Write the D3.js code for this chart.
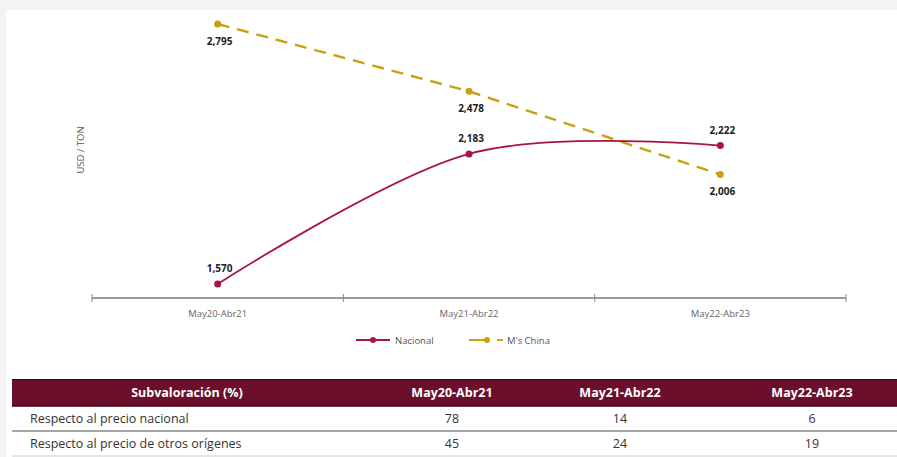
<!DOCTYPE html>
<html>
<head>
<meta charset="utf-8">
<script src="https://cdn.jsdelivr.net/npm/d3@7"></script>
<style>
  body { margin: 0; background: #f3f3f3; font-family: "Open Sans", sans-serif; }
</style>
</head>
<body>
<div id="dataviz"></div>
<script>
// data
const periods = ["May20-Abr21", "May21-Abr22", "May22-Abr23"];
const nacional = [1570, 2183, 2222];
const china = [2795, 2478, 2086];
const nacionalLabels = ["1,570", "2,183", "2,222"];
const chinaLabels = ["2,795", "2,478", "2,006"];
const tableHeader = ["Subvaloración (%)", "May20-Abr21", "May21-Abr22", "May22-Abr23"];
const rowNames = ["Respecto al precio nacional", "Respecto al precio de otros orígenes"];
const rowValues = [[78, 14, 6], [45, 24, 19]];

const W = 897, H = 457;
const margin = {top: 24, right: 51, bottom: 173, left: 92},
    width = W - margin.left - margin.right,
    height = H - margin.top - margin.bottom;

const colNac = "#a8144a", colChina = "#c9a010", maroon = "#6b0f2a";

const root = d3.select("#dataviz").append("svg")
    .attr("width", W).attr("height", H);

// white panel
root.append("rect").attr("x", 6).attr("y", 10).attr("width", W - 6).attr("height", H - 10).attr("fill", "#fff");

let svg = root.append("g").attr("transform", `translate(${margin.left}, ${margin.top})`);

const xScale = d3.scaleBand().domain(periods).range([0, width]);
const yScale = d3.scaleLinear().domain([1570, 2795]).range([260, 0]);
const xc = d => xScale(d) + xScale.bandwidth() / 2;

// x axis
const axisY = 274;
svg.append("line").attr("x1", 0).attr("x2", width).attr("y1", axisY).attr("y2", axisY)
    .attr("stroke", "#9a9a9a").attr("stroke-width", 2);
const edges = periods.map(p => xScale(p)).concat([width]);
svg.selectAll(".tk").data(edges).join("line")
    .attr("x1", d => d).attr("x2", d => d).attr("y1", axisY - 4).attr("y2", axisY + 4)
    .attr("stroke", "#8a8a8a").attr("stroke-width", 1);
svg.selectAll(".xl").data(periods).join("text")
    .attr("x", d => xc(d)).attr("y", axisY + 19)
    .attr("text-anchor", "middle").attr("font-size", 9.5).attr("fill", "#666")
    .text(d => d);

// y title
svg.append("text").attr("transform", `translate(-8, ${126}) rotate(-90)`)
    .attr("text-anchor", "middle").attr("font-size", 9.5).attr("fill", "#555")
    .text("USD / TON");

// lines
const lineNac = d3.line().x((d, i) => xc(periods[i])).y(d => yScale(d)).curve(d3.curveCatmullRom.alpha(0));
const lineChina = d3.line().x((d, i) => xc(periods[i])).y(d => yScale(d));

svg.append("path").datum(china).attr("d", lineChina).attr("fill", "none")
    .attr("stroke", colChina).attr("stroke-width", 2.4).attr("stroke-dasharray", "12,8");
svg.append("path").datum(nacional).attr("d", lineNac).attr("fill", "none")
    .attr("stroke", colNac).attr("stroke-width", 1.8);

svg.selectAll(".pc").data(china).join("circle")
    .attr("cx", (d, i) => xc(periods[i])).attr("cy", d => yScale(d)).attr("r", 3.5).attr("fill", colChina);
svg.selectAll(".pn").data(nacional).join("circle")
    .attr("cx", (d, i) => xc(periods[i])).attr("cy", d => yScale(d)).attr("r", 3.5).attr("fill", colNac);

// data labels
svg.selectAll(".lc").data(china).join("text")
    .attr("x", (d, i) => xc(periods[i]) + 2).attr("y", d => yScale(d) + 21)
    .attr("text-anchor", "middle").attr("font-size", 10).attr("font-weight", "bold").attr("fill", "#222")
    .text((d, i) => chinaLabels[i]);
svg.selectAll(".ln").data(nacional).join("text")
    .attr("x", (d, i) => xc(periods[i]) + 2).attr("y", d => yScale(d) - 12)
    .attr("text-anchor", "middle").attr("font-size", 10).attr("font-weight", "bold").attr("fill", "#222")
    .text((d, i) => nacionalLabels[i]);

// legend
const lg = root.append("g").attr("transform", "translate(356, 340)");
lg.append("line").attr("x1", 0).attr("x2", 34).attr("stroke", colNac).attr("stroke-width", 2);
lg.append("circle").attr("cx", 17).attr("r", 3).attr("fill", colNac);
lg.append("text").attr("x", 39).attr("y", 3.5).attr("font-size", 9.5).attr("fill", "#555").text("Nacional");
lg.append("line").attr("x1", 113).attr("x2", 133).attr("stroke", colChina).attr("stroke-width", 2);
lg.append("circle").attr("cx", 131).attr("r", 3).attr("fill", colChina);
lg.append("line").attr("x1", 141).attr("x2", 147).attr("stroke", colChina).attr("stroke-width", 2);
lg.append("text").attr("x", 151).attr("y", 3.5).attr("font-size", 9.5).attr("fill", "#555").text("M's China");

// table
const tx0 = 12, tTop = 379, hH = 27, rH = 25;
const colCenters = [187, 452, 620, 812];
root.append("rect").attr("x", tx0).attr("y", tTop).attr("width", W - tx0).attr("height", hH).attr("fill", maroon);
root.append("line").attr("x1", tx0).attr("x2", W).attr("y1", tTop + 0.5).attr("y2", tTop + 0.5).attr("stroke", "#3a0614");
root.append("line").attr("x1", tx0).attr("x2", W).attr("y1", tTop + hH).attr("y2", tTop + hH).attr("stroke", "#3a0614").attr("stroke-width", 1.5);
root.selectAll(".th").data(tableHeader).join("text")
    .attr("x", (d, i) => colCenters[i]).attr("y", tTop + 18)
    .attr("text-anchor", "middle").attr("font-size", 12.5).attr("font-weight", "bold").attr("fill", "#fff")
    .text(d => d);

rowNames.forEach((name, r) => {
  const y0 = tTop + hH + r * rH;
  root.append("text").attr("x", 30).attr("y", y0 + 17).attr("font-size", 12.5).attr("fill", "#333").text(name);
  root.selectAll(".v" + r).data(rowValues[r]).join("text")
      .attr("x", (d, i) => colCenters[i + 1]).attr("y", y0 + 17)
      .attr("text-anchor", "middle").attr("font-size", 12.5).attr("fill", "#333")
      .text(d => d);
  root.append("line").attr("x1", tx0).attr("x2", W).attr("y1", y0 + rH).attr("y2", y0 + rH)
      .attr("stroke", r === 0 ? "#888" : "#ccc").attr("stroke-width", r === 0 ? 1.5 : 1);
});
</script>
</body>
</html>
